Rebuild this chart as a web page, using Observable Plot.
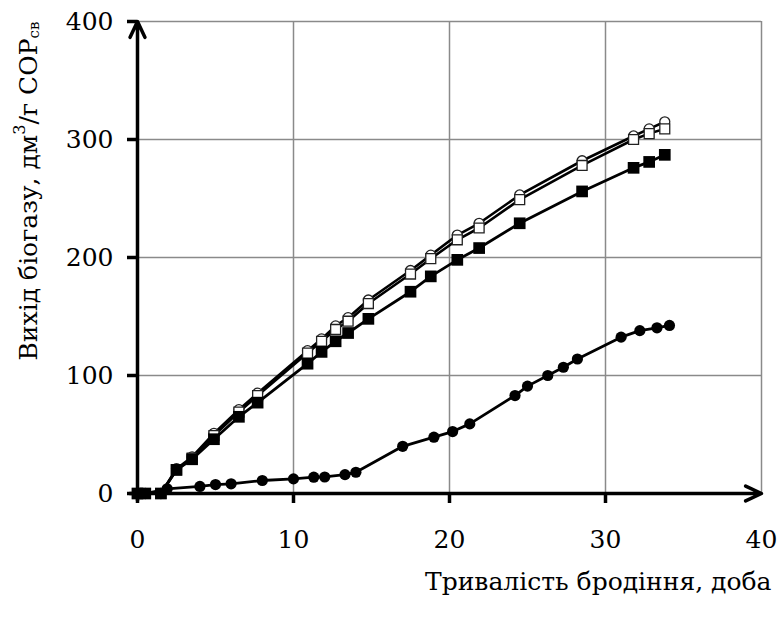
<!DOCTYPE html>
<html><head><meta charset="utf-8">
<script src="https://cdn.jsdelivr.net/npm/d3@7"></script>
<script src="https://cdn.jsdelivr.net/npm/@observablehq/plot@0.6"></script>
<style>body{margin:0;background:#fff}</style>
</head><body><div id="chart"></div>
<script>
// Days for the three square/open series
const days = [0, 0.5, 1.5, 2.5, 3.5, 4.9, 6.5, 7.7, 10.9, 11.8, 12.7, 13.5, 14.8, 17.5, 18.8, 20.5, 21.9, 24.5, 28.5, 31.8, 32.8, 33.8];
const openCircleYield = [0, 0, 0, 21, 31, 51, 71, 85, 121, 131, 142, 149, 164, 189, 202, 219, 229, 253, 282, 303, 309, 315];
const openSquareYield = [0, 0, 0, 20, 30, 49, 69, 83, 119, 129, 139, 146, 161, 186, 199, 215, 225, 249, 278, 300, 305, 309];
const filledSquareYield = [0, 0, 0, 20, 29, 46, 65, 77, 110, 120, 129, 136, 148, 171, 184, 198, 208, 229, 256, 276, 281, 287];
// Filled circle series
const circleDays = [0, 0.5, 1.9, 4.0, 5.0, 6.0, 8.0, 10.0, 11.3, 12.0, 13.3, 14.0, 17.0, 19.0, 20.2, 21.3, 24.2, 25.0, 26.3, 27.3, 28.2, 31.0, 32.2, 33.3, 34.1];
const filledCircleYield = [0, 0, 4, 6, 7.6, 8.2, 11, 12.4, 13.8, 14, 16, 18, 40, 47.7, 52.5, 59, 83, 91, 100, 107, 114, 132.5, 138, 140.4, 142.4];

const xTicks = [0, 10, 20, 30, 40];
const yTicks = [0, 100, 200, 300, 400];
const xLabel = "Тривалість бродіння, доба";
const yLabelParts = ["Вихід біогазу, дм", "3", "/г СОР", "св"];

const toRows = (xs, ys) => xs.map((x, i) => ({x, y: ys[i]}));
const oc = toRows(days, openCircleYield);
const os = toRows(days, openSquareYield);
const fs = toRows(days, filledSquareYield);
const fc = toRows(circleDays, filledCircleYield);

const FONT = "DejaVu Serif";
const FS = 25;

const plot = Plot.plot({
  width: 779,
  height: 619,
  marginLeft: 137,
  marginRight: 18,
  marginTop: 21,
  marginBottom: 126,
  x: {domain: [0, 40]},
  y: {domain: [0, 400]},
  style: {fontFamily: FONT, fontSize: FS + "px", background: "white", color: "black", overflow: "visible"},
  marks: [
    Plot.gridX(xTicks.filter(d => d > 0), {stroke: "#8a8a8a", strokeOpacity: 1, strokeWidth: 1.5}),
    Plot.gridY(yTicks.filter(d => d > 0), {stroke: "#8a8a8a", strokeOpacity: 1, strokeWidth: 1.5}),
    Plot.axisY({ticks: yTicks, tickSize: 10, tickPadding: 14, strokeWidth: 3.5, fontSize: FS, tickFormat: d => String(d), label: null}),
    Plot.axisX({ticks: xTicks.filter(d => d < 40), tickSize: 10, strokeWidth: 3.5, text: null, label: null}),
    Plot.axisX({ticks: xTicks, tickSize: 0, tickPadding: 37, fontSize: FS, tickFormat: d => String(d), label: null}),
    Plot.arrow([{x1: 0, y1: -6, x2: 0, y2: 400}], {x1: "x1", y1: "y1", x2: "x2", y2: "y2", stroke: "black", strokeWidth: 3.5, headLength: 7.5, headAngle: 50}),
    Plot.arrow([{x1: -0.5, y1: 0, x2: 40, y2: 0}], {x1: "x1", y1: "y1", x2: "x2", y2: "y2", stroke: "black", strokeWidth: 3.5, headLength: 7.5, headAngle: 50}),
    Plot.line(oc, {x: "x", y: "y", stroke: "black", strokeWidth: 2.6}),
    Plot.dot(oc, {x: "x", y: "y", r: 5, fill: "white", stroke: "#222", strokeWidth: 1.3}),
    Plot.line(os, {x: "x", y: "y", stroke: "black", strokeWidth: 2.6}),
    Plot.dot(os, {x: "x", y: "y", symbol: "square", r: 5.6, fill: "white", stroke: "#222", strokeWidth: 1.3}),
    Plot.line(fs, {x: "x", y: "y", stroke: "black", strokeWidth: 2.8}),
    Plot.dot(fs, {x: "x", y: "y", symbol: "square", r: 6.6, fill: "black", stroke: "none"}),
    Plot.line(fc, {x: "x", y: "y", stroke: "black", strokeWidth: 2.8}),
    Plot.dot(fc, {x: "x", y: "y", r: 5.6, fill: "black", stroke: "none"}),
    Plot.text([xLabel], {frameAnchor: "bottom-right", dx: 10, dy: 88, lineAnchor: "middle", textAnchor: "end", fontSize: FS, fill: "black", fontFamily: FONT})
  ]
});

// Rotated y-axis label with superscript and subscript
const svg = d3.select(plot);
const t = svg.append("text")
  .attr("transform", "translate(30,191) rotate(-90)")
  .attr("text-anchor", "middle")
  .attr("dominant-baseline", "middle")
  .attr("font-family", FONT)
  .attr("font-size", FS)
  .attr("fill", "black");
t.append("tspan").text(yLabelParts[0]);
t.append("tspan").attr("dy", -10).attr("font-size", FS * 0.65).text(yLabelParts[1]);
t.append("tspan").attr("dy", 10).text(yLabelParts[2]);
t.append("tspan").attr("dy", 5).attr("font-size", FS * 0.6).text(yLabelParts[3]);

document.getElementById("chart").appendChild(plot);
</script>
</body></html>
